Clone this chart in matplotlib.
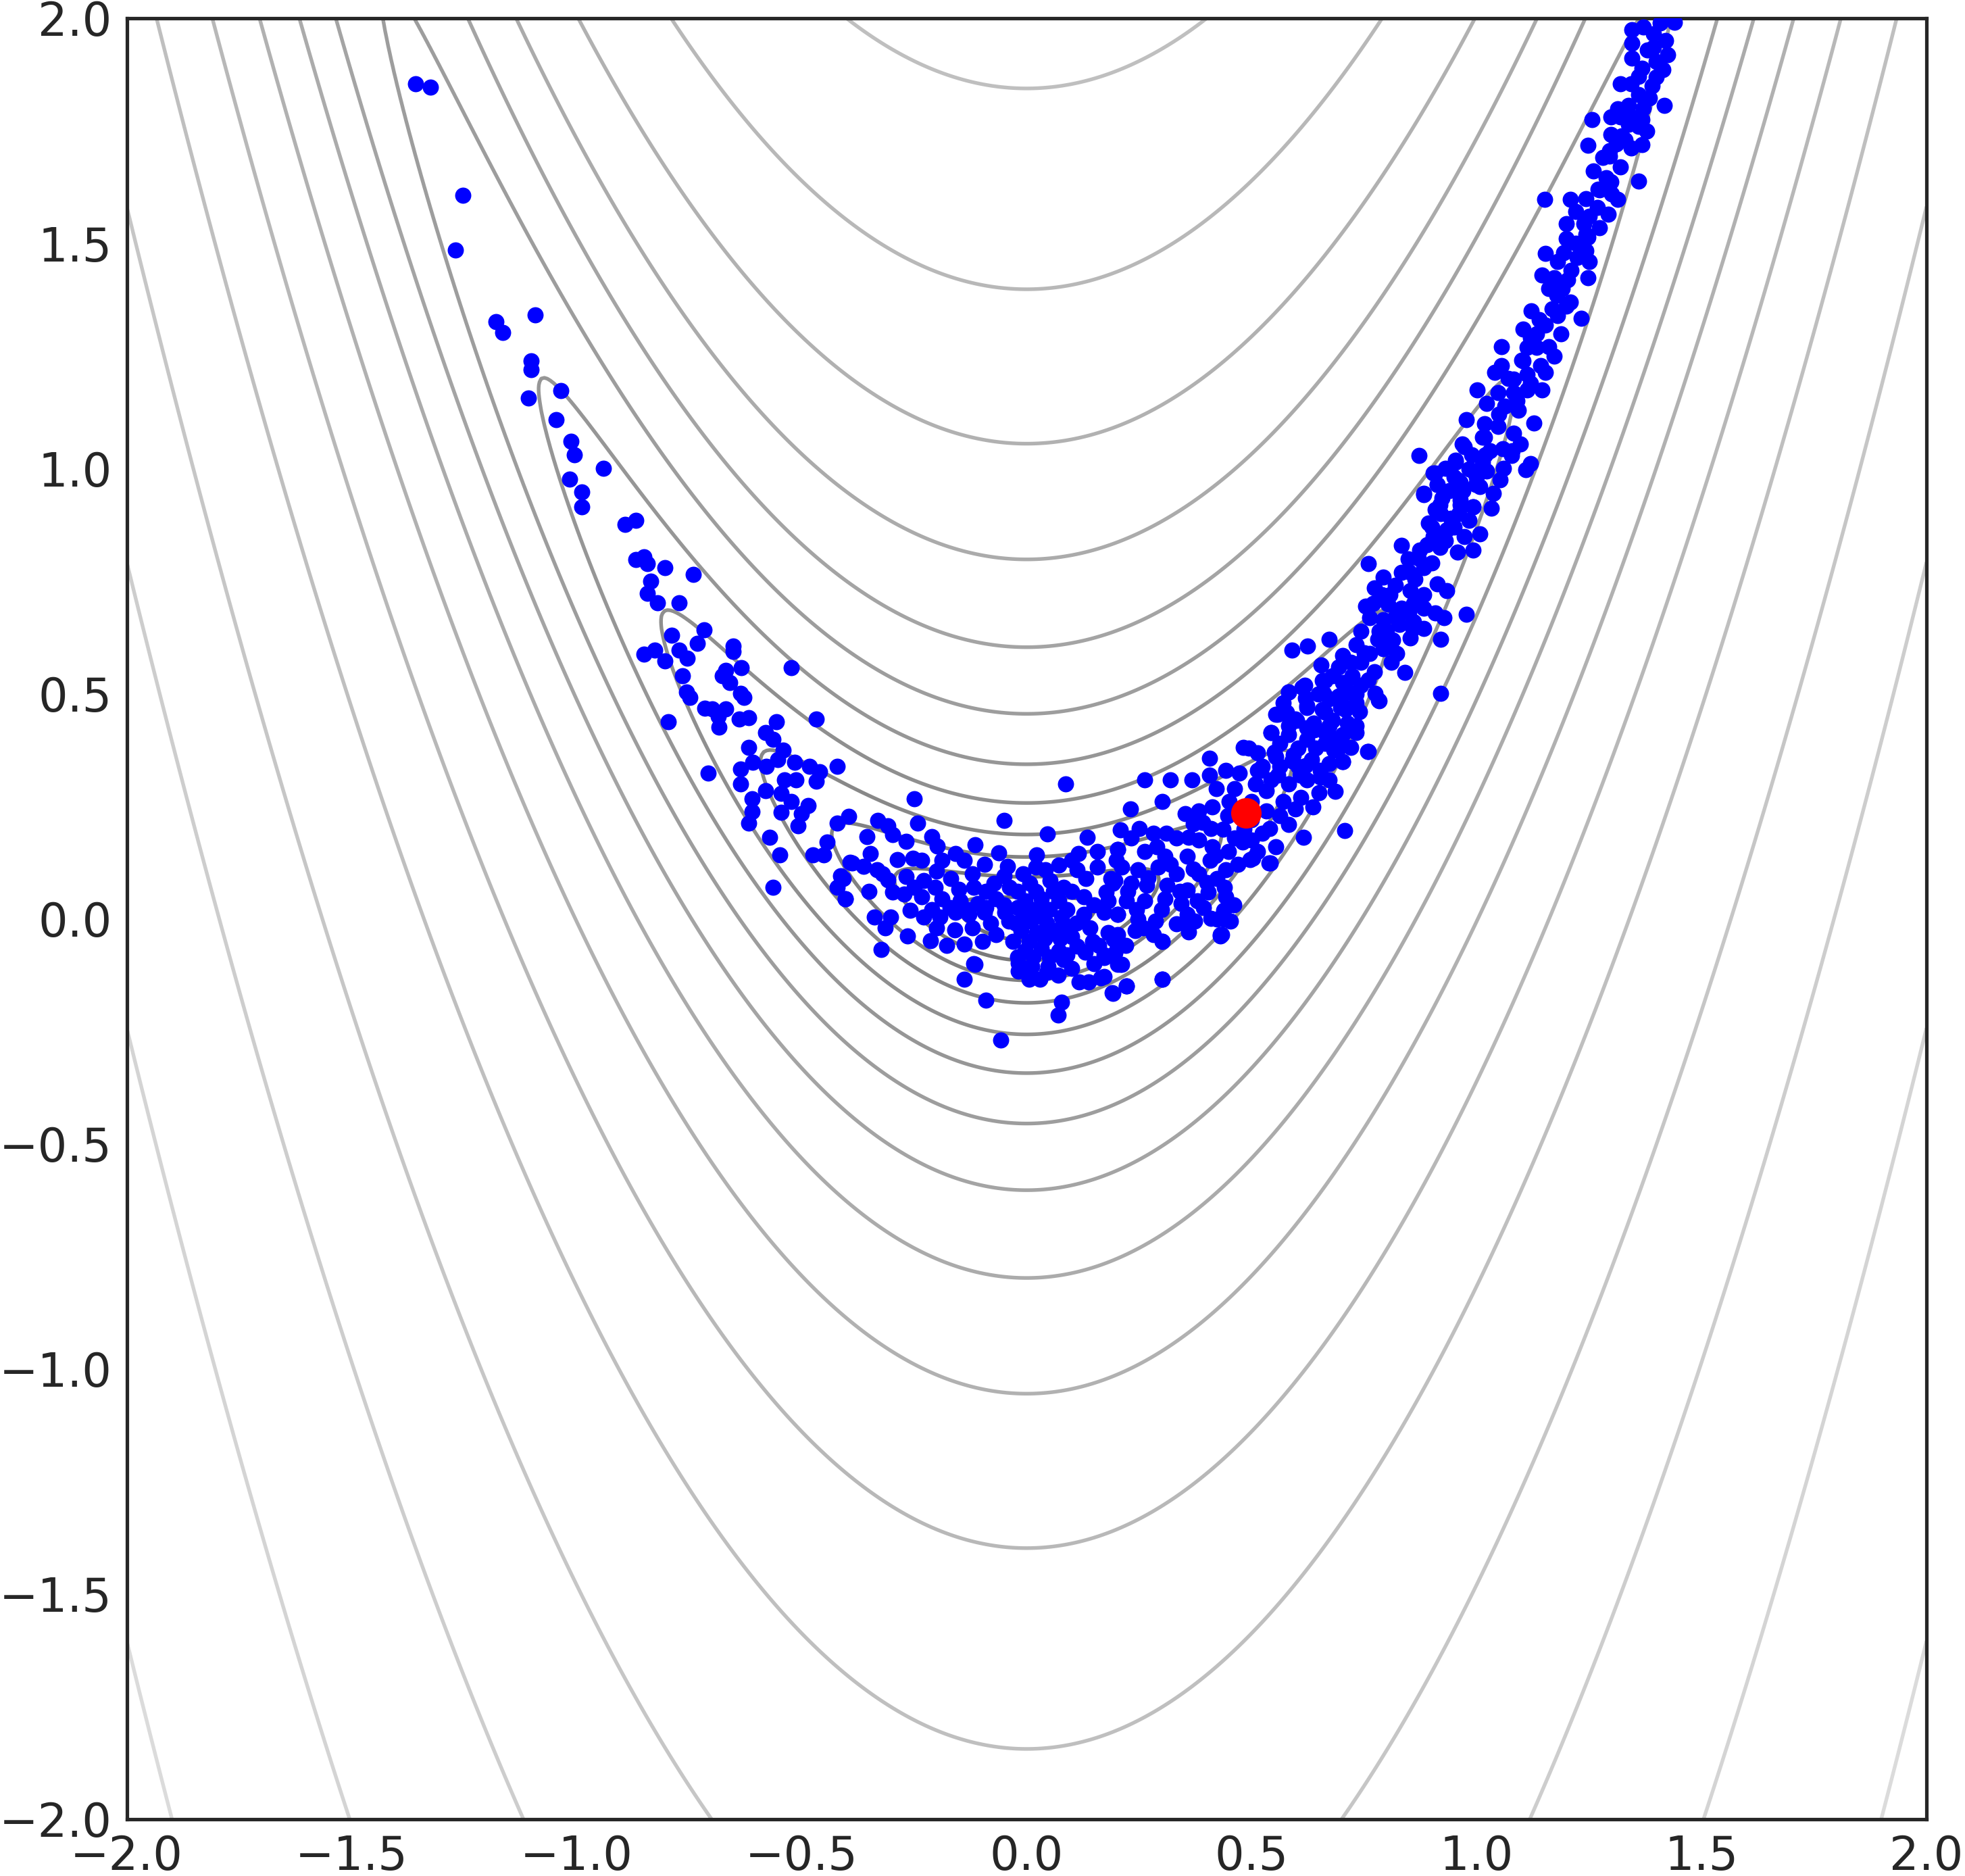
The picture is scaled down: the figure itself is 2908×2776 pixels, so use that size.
import numpy as np
import matplotlib.pyplot as plt

# samples, (x, y), grouped by region
left_arm = [
    (-1.358, 1.854), (-1.325, 1.847), (-1.253, 1.607), (-1.269, 1.485), (-1.18, 1.326),
    (-1.165, 1.302), (-1.093, 1.341), (-1.101, 1.239), (-1.101, 1.22), (-1.108, 1.157),
    (-1.035, 1.173), (-1.045, 1.109), (-1.012, 1.061), (-1.005, 1.03), (-0.94, 1.0),
    (-1.015, 0.976),
    (-0.988, 0.948), (-0.988, 0.915), (-0.892, 0.876), (-0.868, 0.885), (-0.868, 0.798),
    (-0.85, 0.804), (-0.843, 0.788), (-0.804, 0.78), (-0.741, 0.765), (-0.835, 0.749),
    (-0.843, 0.723), (-0.82, 0.701), (-0.772, 0.701), (-0.717, 0.642), (-0.789, 0.629),
    (-0.732, 0.612), (-0.652, 0.606), (-0.652, 0.593), (-0.85, 0.588), (-0.826, 0.597),
    (-0.804, 0.572), (-0.772, 0.596), (-0.754, 0.579), (-0.765, 0.539), (-0.634, 0.557),
    (-0.669, 0.551), (-0.676, 0.54), (-0.66, 0.524), (-0.523, 0.557), (-0.756, 0.504),
    (-0.748, 0.492), (-0.636, 0.501), (-0.628, 0.492), (-0.796, 0.437), (-0.715, 0.467),
    (-0.699, 0.466), (-0.669, 0.466), (-0.685, 0.45), (-0.684, 0.426), (-0.639, 0.443),
    (-0.618, 0.446), (-0.556, 0.438), (-0.468, 0.444), (-0.58, 0.414), (-0.564, 0.398),
    (-0.618, 0.381), (-0.541, 0.375), (-0.609, 0.348), (-0.579, 0.339), (-0.553, 0.353),
    (-0.516, 0.348), (-0.483, 0.339), (-0.46, 0.326), (-0.421, 0.339), (-0.636, 0.333),
    (-0.708, 0.324), (-0.538, 0.309), (-0.513, 0.309), (-0.468, 0.306), (-0.636, 0.3),
    (-0.58, 0.284), (-0.546, 0.278), (-0.523, 0.261), (-0.486, 0.252), (-0.61, 0.267),
    (-0.61, 0.238), (-0.618, 0.212), (-0.546, 0.236), (-0.501, 0.234), (-0.508, 0.206),
    (-0.421, 0.212), (-0.395, 0.228), (-0.571, 0.18), (-0.443, 0.17), (-0.549, 0.141),
    (-0.475, 0.141), (-0.451, 0.141), (-0.393, 0.125), (-0.414, 0.095), (-0.421, 0.069),
    (-0.403, 0.044), (-0.564, 0.069),
]

valley_floor = [
    (-0.25, 0.266), (0.086, 0.3), (-0.05, 0.219), (-0.242, 0.212), (-0.331, 0.219),
    (0.046, 0.188), (0.134, 0.18), (0.208, 0.197), (-0.355, 0.182), (-0.308, 0.206),
    (-0.298, 0.186), (-0.268, 0.171), (-0.211, 0.182), (-0.198, 0.161), (-0.115, 0.164),
    (-0.062, 0.146), (-0.043, 0.116), (0.022, 0.141), (0.115, 0.144), (0.157, 0.149),
    (0.202, 0.153),
    (-0.388, 0.124), (-0.363, 0.116), (-0.348, 0.144), (-0.333, 0.109), (-0.288, 0.131),
    (-0.253, 0.134), (-0.233, 0.129), (-0.188, 0.129), (-0.158, 0.144), (-0.138, 0.129),
    (-0.093, 0.121), (-0.008, 0.099), (0.042, 0.109), (0.072, 0.119), (0.112, 0.109),
    (0.157, 0.114), (0.187, 0.089),
    (-0.408, 0.089), (-0.308, 0.086), (-0.268, 0.094), (-0.228, 0.084), (-0.203, 0.069),
    (-0.168, 0.089), (-0.118, 0.069), (-0.073, 0.079), (-0.038, 0.069), (0.007, 0.079),
    (0.052, 0.084), (0.082, 0.069), (0.132, 0.089), (0.197, 0.084),
    (-0.403, 0.044), (-0.298, 0.059), (-0.273, 0.054), (-0.233, 0.049), (-0.188, 0.044),
    (-0.148, 0.039), (-0.108, 0.034), (-0.068, 0.044), (-0.003, 0.039), (0.032, 0.044),
    (0.072, 0.039), (0.127, 0.049), (0.177, 0.059),
    (-0.338, 0.004), (-0.303, 0.004), (-0.258, 0.019), (-0.228, 0.004), (-0.193, 0.004),
    (-0.158, 0.014), (-0.128, 0.009), (-0.093, 0.014), (-0.048, 0.014), (-0.003, 0.009),
    (0.032, 0.009), (0.077, 0.004), (0.127, 0.009), (0.172, 0.014), (0.202, 0.009),
    (-0.315, -0.021), (-0.265, -0.039), (-0.213, -0.049), (-0.178, -0.059), (-0.138, -0.056),
    (-0.098, -0.051), (-0.068, -0.036), (-0.013, -0.026), (0.022, -0.031), (0.062, -0.026),
    (0.092, -0.026), (0.182, -0.031),
    (-0.323, -0.069), (-0.003, -0.071), (0.032, -0.066), (0.072, -0.071), (0.112, -0.061),
    (0.147, -0.051), (0.202, -0.061),
    (-0.118, -0.1), (-0.018, -0.099), (0.012, -0.106), (0.047, -0.106), (0.082, -0.091),
    (0.172, -0.086), (0.202, -0.101),
    (-0.138, -0.134), (-0.018, -0.116), (0.005, -0.134), (0.03, -0.134), (0.07, -0.126),
    (0.117, -0.141), (0.137, -0.141), (0.172, -0.129),
    (-0.09, -0.181), (0.077, -0.186), (0.07, -0.214), (0.19, -0.164), (-0.058, -0.27),
    (0.301, -0.134), (0.222, -0.149), (-0.115, -0.101), (0.165, -0.131), (0.301, -0.051),
    (0.208, -0.101), (0.172, -0.081), (0.194, -0.046), (0.431, -0.036), (0.352, -0.011),
    (0.438, -0.001), (0.538, 0.124), (0.502, 0.134),
]

# the solid middle of the floor cluster
valley_core = [
    (-0.02, 0.025), (0.015, 0.02), (0.05, 0.02), (0.09, 0.02), (-0.025, -0.01),
    (0.01, -0.005), (0.045, -0.01), (0.08, -0.01), (0.11, -0.01), (-0.03, -0.05),
    (0.005, -0.05), (0.04, -0.045), (0.075, -0.045), (0.1, -0.04), (-0.02, -0.085),
    (0.015, -0.085), (0.05, -0.085), (0.09, -0.08), (0.13, -0.075), (-0.005, -0.115),
    (0.045, -0.12), (0.1, -0.11), (0.15, -0.1), (0.16, -0.06), (0.14, -0.02),
    (0.15, 0.03), (0.1, 0.06), (0.06, 0.06), (0.02, 0.06), (-0.02, 0.06),
    (-0.21, 0.02), (-0.17, 0.025), (-0.13, 0.02), (-0.09, 0.025), (-0.05, 0.03),
    (-0.2, -0.02), (-0.16, -0.025), (-0.12, -0.02), (-0.08, -0.01), (-0.04, -0.005),
    (-0.25, 0.07), (-0.15, 0.065), (-0.09, 0.06), (-0.35, 0.06), (-0.32, 0.1),
    (-0.2, 0.105), (-0.12, 0.1), (-0.05, 0.095), (0.02, 0.115), (0.1, 0.13),
]

right_arm_low = [
    (0.262, 0.308), (0.319, 0.308), (0.302, 0.26), (0.231, 0.244), (0.367, 0.308),
    (0.407, 0.356), (0.482, 0.38), (0.707, 0.195), (0.615, 0.18), (0.758, 0.372),
    (0.782, 0.486), (0.302, -0.134), (0.222, -0.149), (0.192, -0.166), (0.43, -0.039),
    (0.542, 0.123), (0.497, 0.131), (0.686, 0.283), (0.637, 0.248),
    (0.583, 0.504), (0.618, 0.519), (0.658, 0.529), (0.708, 0.524), (0.733, 0.499),
    (0.673, 0.489), (0.623, 0.469), (0.663, 0.459), (0.708, 0.464), (0.733, 0.429),
    (0.553, 0.454), (0.578, 0.459), (0.543, 0.414), (0.583, 0.429), (0.623, 0.424),
    (0.663, 0.414), (0.703, 0.409), (0.523, 0.339), (0.563, 0.389), (0.603, 0.379),
    (0.643, 0.379), (0.683, 0.374), (0.703, 0.349), (0.563, 0.339), (0.603, 0.339),
    (0.653, 0.329), (0.673, 0.309), (0.583, 0.299), (0.543, 0.309), (0.623, 0.309),
    (0.407, 0.319), (0.442, 0.329), (0.472, 0.324), (0.422, 0.289), (0.462, 0.289),
    (0.508, 0.299), (0.533, 0.284), (0.352, 0.234), (0.382, 0.239), (0.412, 0.249),
    (0.447, 0.229), (0.483, 0.199), (0.533, 0.239), (0.563, 0.229), (0.598, 0.244),
    (0.583, 0.209), (0.392, 0.214), (0.437, 0.199), (0.462, 0.179), (0.523, 0.189),
    (0.553, 0.159), (0.513, 0.149),
    (0.202, 0.154), (0.232, 0.179), (0.282, 0.189), (0.333, 0.179), (0.383, 0.174),
    (0.413, 0.159), (0.448, 0.149), (0.262, 0.149), (0.307, 0.139), (0.357, 0.139),
    (0.408, 0.129), (0.443, 0.109), (0.212, 0.114), (0.247, 0.109), (0.292, 0.114),
    (0.333, 0.099), (0.383, 0.099), (0.423, 0.089), (0.192, 0.079), (0.232, 0.079),
    (0.267, 0.074), (0.312, 0.074), (0.357, 0.064), (0.403, 0.059), (0.443, 0.049),
    (0.182, 0.039), (0.222, 0.039), (0.262, 0.039), (0.307, 0.044), (0.343, 0.034),
    (0.393, 0.024), (0.438, 0.019), (0.202, 0.009), (0.247, -0.001), (0.287, -0.006),
    (0.357, 0.009), (0.423, -0.001), (0.453, -0.006), (0.242, -0.026), (0.282, -0.036),
    (0.333, -0.011), (0.373, -0.006), (0.433, -0.036), (0.202, -0.036), (0.302, -0.051),
    (0.212, -0.101), (0.197, -0.076),
    (0.2, 0.13), (0.225, 0.06), (0.245, 0.02), (0.27, 0.09), (0.29, 0.16),
    (0.3, 0.02), (0.32, 0.12), (0.34, 0.06), (0.36, -0.03), (0.37, 0.11),
    (0.38, 0.04), (0.4, 0.08), (0.41, 0.0), (0.42, 0.14), (0.44, 0.07),
    (0.46, 0.03), (0.47, 0.12), (0.26, -0.02), (0.22, -0.06), (0.31, 0.19),
    (0.36, 0.18), (0.25, 0.2), (0.48, 0.17), (0.5, 0.22), (0.45, 0.26),
    (0.5, 0.26), (0.52, 0.33), (0.55, 0.37), (0.59, 0.35), (0.62, 0.34),
    (0.64, 0.42), (0.6, 0.44), (0.68, 0.44), (0.7, 0.48), (0.66, 0.5),
    (0.62, 0.49), (0.57, 0.48), (0.69, 0.4), (0.72, 0.38), (0.65, 0.28),
    (0.61, 0.27), (0.57, 0.26), (0.54, 0.2), (0.5, 0.175), (0.41, 0.2),
    (0.37, 0.21),
]

right_arm_mid = [
    (0.872, 1.029), (0.759, 0.789), (0.977, 0.676), (0.92, 0.62), (0.92, 0.5),
    (0.84, 0.547), (0.759, 0.372), (0.672, 0.62), (0.59, 0.596), (0.624, 0.605),
    (0.655, 0.564), (0.783, 0.484), (0.774, 0.501),
    (0.968, 1.054), (1.013, 1.069), (0.953, 1.014), (0.983, 0.999), (1.013, 1.014),
    (0.908, 0.989), (0.913, 0.964), (0.958, 0.974), (0.998, 0.964), (0.883, 0.941),
    (0.923, 0.934), (0.963, 0.929), (0.993, 0.914), (0.908, 0.909), (0.943, 0.889),
    (0.983, 0.884), (0.893, 0.879), (0.933, 0.864), (0.973, 0.849), (1.008, 0.854),
    (0.903, 0.849), (0.833, 0.829), (0.873, 0.819), (0.918, 0.824), (0.958, 0.814),
    (0.993, 0.819), (0.848, 0.799), (0.883, 0.779), (0.793, 0.759), (0.833, 0.769),
    (0.863, 0.754), (0.913, 0.744), (0.933, 0.729), (0.773, 0.734), (0.808, 0.719),
    (0.853, 0.729), (0.883, 0.719), (0.803, 0.699), (0.753, 0.694), (0.833, 0.689),
    (0.883, 0.689), (0.908, 0.679), (0.928, 0.669), (0.763, 0.669), (0.793, 0.664),
    (0.828, 0.654), (0.858, 0.644), (0.883, 0.644), (0.743, 0.639), (0.783, 0.639),
    (0.813, 0.619), (0.853, 0.624), (0.733, 0.609), (0.763, 0.589), (0.793, 0.599),
    (0.823, 0.589), (0.703, 0.584), (0.743, 0.569), (0.773, 0.549), (0.693, 0.559),
    (0.723, 0.539), (0.663, 0.529), (0.703, 0.524), (0.743, 0.519), (0.648, 0.499),
    (0.693, 0.494), (0.728, 0.499), (0.613, 0.514), (0.583, 0.504), (0.623, 0.474),
    (0.658, 0.464), (0.698, 0.469), (0.733, 0.479), (0.558, 0.454), (0.598, 0.444),
    (0.638, 0.434), (0.673, 0.429), (0.713, 0.434), (0.733, 0.414), (0.543, 0.414),
    (0.583, 0.409), (0.623, 0.399), (0.663, 0.389), (0.693, 0.379), (0.703, 0.349),
    (0.513, 0.369), (0.553, 0.359), (0.593, 0.364), (0.633, 0.354), (0.673, 0.344),
    (0.493, 0.379), (0.513, 0.329), (0.558, 0.319), (0.608, 0.319), (0.653, 0.314),
    (0.75, 0.59), (0.78, 0.62), (0.8, 0.64), (0.82, 0.67), (0.77, 0.7),
    (0.79, 0.72), (0.82, 0.74), (0.85, 0.77), (0.86, 0.7), (0.87, 0.8),
    (0.9, 0.79), (0.89, 0.83), (0.9, 0.87), (0.93, 0.84), (0.95, 0.87),
    (0.92, 0.9), (0.96, 0.9), (0.94, 0.95), (0.97, 0.95), (0.93, 1.0),
    (0.99, 1.03), (1.0, 0.98), (1.03, 1.04), (0.71, 0.51), (0.76, 0.53),
    (0.74, 0.46), (0.68, 0.54), (0.72, 0.57), (0.85, 0.68), (0.86, 0.66),
    (0.81, 0.57),
]

right_arm_high = [
    (1.152, 1.598), (1.208, 1.598), (1.243, 1.599), (1.2, 1.543), (1.238, 1.544),
    (1.243, 1.519), (1.153, 1.477), (1.193, 1.479), (1.223, 1.469), (1.243, 1.484),
    (1.248, 1.424), (1.145, 1.43), (1.173, 1.424), (1.203, 1.419), (1.178, 1.384),
    (1.208, 1.369), (1.233, 1.334), (1.121, 1.35), (1.168, 1.354), (1.153, 1.319),
    (1.103, 1.309), (1.133, 1.299), (1.188, 1.299), (1.173, 1.249), (1.113, 1.269),
    (1.133, 1.269), (1.103, 1.239), (1.143, 1.229), (1.153, 1.214), (1.056, 1.27),
    (1.056, 1.229), (1.04, 1.214), (1.083, 1.199), (1.113, 1.209), (1.001, 1.174),
    (1.048, 1.169), (1.083, 1.169), (1.113, 1.174), (1.145, 1.174), (1.023, 1.144),
    (1.063, 1.139), (1.093, 1.129), (0.977, 1.109), (1.018, 1.099), (1.048, 1.094),
    (1.128, 1.101), (1.018, 1.069), (1.083, 1.079), (1.098, 1.054), (0.973, 1.049),
    (1.058, 1.044), (1.078, 1.029), (1.12, 1.011), (1.11, 0.997), (0.953, 1.019),
    (0.993, 0.994), (1.023, 0.994), (1.053, 0.974), (0.903, 0.989), (0.913, 0.964),
    (0.963, 0.969), (1.008, 0.959), (1.038, 0.944), (0.883, 0.944), (0.918, 0.919),
    (0.963, 0.919), (0.993, 0.914), (1.033, 0.912),
    (1.345, 1.975), (1.345, 1.944), (1.345, 1.912), (1.393, 1.966), (1.393, 1.936),
    (1.408, 1.989), (1.44, 1.991), (1.425, 1.919), (1.415, 1.886), (1.4, 1.904),
    (1.368, 1.889), (1.36, 1.871), (1.32, 1.854), (1.343, 1.854), (1.385, 1.823),
    (1.417, 1.806), (1.257, 1.775), (1.298, 1.781), (1.313, 1.799), (1.337, 1.806),
    (1.348, 1.779), (1.368, 1.774), (1.338, 1.764), (1.378, 1.749), (1.298, 1.741),
    (1.323, 1.739), (1.248, 1.718), (1.296, 1.706), (1.296, 1.694), (1.343, 1.711),
    (1.368, 1.719), (1.288, 1.646), (1.298, 1.636), (1.36, 1.638), (1.273, 1.619),
    (1.313, 1.598), (1.268, 1.579), (1.293, 1.564), (1.273, 1.534), (1.248, 1.514),
    (1.05, 1.12), (1.09, 1.15), (1.12, 1.19), (1.07, 1.2), (1.1, 1.24),
    (1.16, 1.27), (1.12, 1.29), (1.14, 1.33), (1.18, 1.34), (1.19, 1.4),
    (1.16, 1.4), (1.21, 1.44), (1.18, 1.46), (1.22, 1.5), (1.2, 1.51),
    (1.25, 1.56), (1.22, 1.57), (1.27, 1.62), (1.3, 1.61), (1.32, 1.67),
    (1.28, 1.69), (1.33, 1.73), (1.36, 1.76), (1.32, 1.78), (1.37, 1.8),
    (1.39, 1.85), (1.36, 1.83), (1.4, 1.87), (1.38, 1.93), (1.42, 1.95),
    (1.37, 1.98), (1.43, 2.0), (1.26, 1.66), (1.31, 1.72), (1.02, 1.03),
    (1.06, 1.0), (0.95, 0.98), (1.25, 1.46), (1.2, 1.36), (1.08, 1.04),
]

mean_x, mean_y = 0.487, 0.235

# heights of the contour lines, given by where each one crosses x = 0
crossing_y = [0.048, 0.093, 0.137, 0.187, 0.257, 0.343, 0.455, 0.603,
              0.798, 1.055, 1.398, 1.844, 2.50, 3.27, 4.29, 5.64]


def banana(x, y):
    return (y - x**2)**2 + 0.1 * x**2


fig = plt.figure(figsize=(2908 / 300, 2776 / 300), dpi=300)
ax = fig.add_axes([0.0645, 0.0303, 0.9159, 0.9600])

grid = np.linspace(-2, 2, 600)
X, Y = np.meshgrid(grid, grid)
levels = np.array(crossing_y)**2
shade = np.clip(0.045 * np.arange(len(levels)) + 0.09, 0, 1)
ax.contour(X, Y, banana(X, Y), levels=levels,
           colors=[plt.cm.gray(s) for s in shade], alpha=0.6, linewidths=1.3)

pts = np.array(left_arm + valley_floor + valley_core + right_arm_low
               + right_arm_mid + right_arm_high)
ax.scatter(pts[:, 0], pts[:, 1], s=33, c='blue', linewidths=0, zorder=3)
ax.scatter([mean_x], [mean_y], s=117, c='red', linewidths=0, zorder=4)

ax.set_xlim(-2, 2)
ax.set_ylim(-2, 2)
ticks = [-2.0, -1.5, -1.0, -0.5, 0.0, 0.5, 1.0, 1.5, 2.0]
ax.set_xticks(ticks)
ax.set_yticks(ticks)
ax.tick_params(length=0, pad=5.25, labelsize=16.5, colors='#262626')
for sp in ax.spines.values():
    sp.set_color('#262626')
    sp.set_linewidth(1.25)

fig.savefig('out.png', dpi=300)
